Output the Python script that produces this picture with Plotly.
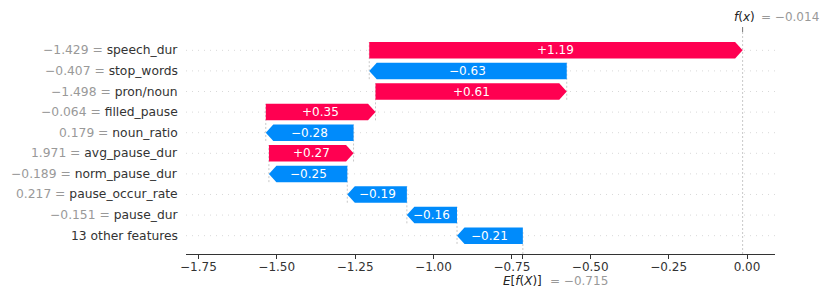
import plotly.graph_objects as go

# ---------------- data (top row first) ----------------
features = ["speech_dur", "stop_words", "pron/noun", "filled_pause", "noun_ratio",
            "avg_pause_dur", "norm_pause_dur", "pause_occur_rate", "pause_dur",
            "13 other features"]
feature_values = [-1.429, -0.407, -1.498, -0.064, 0.179, 1.971, -0.189, 0.217, -0.151, None]
shap_values = [1.191, -0.63, 0.61, 0.35, -0.28, 0.27, -0.25, -0.19, -0.16, -0.21]
base_value = -0.715
tick_values = [-1.75, -1.50, -1.25, -1.00, -0.75, -0.50, -0.25, 0.00]

RED = "#ff0051"
BLUE = "#008bfb"
FONT = "DejaVu Sans"

W, H = 830, 302
ML, MR, MT, MB = 186, 55, 32, 48
XR = [-1.7895, 0.0893]
YR = [-0.89, 9.89]
px_per_unit = (W - ML - MR) / (XR[1] - XR[0])
head_len = 7.5 / px_per_unit
half = 0.4


def fmt(v, d):
    s = f"{abs(v):.{d}f}"
    return ("\u2212" if v < 0 else "") + s


def fmt_signed(v):
    return ("\u2212" if v < 0 else "+") + f"{abs(v):.2f}"


n = len(features)
rows = [n - 1 - i for i in range(n)]
starts = [0.0] * n
ends = [0.0] * n
cur = base_value
for i in reversed(range(n)):
    starts[i] = cur
    cur = cur + shap_values[i]
    ends[i] = cur
fx = cur

fig = go.Figure()
shapes = []
annotations = []

# horizontal dotted row lines
for r in rows:
    shapes.append(dict(type="line", xref="paper", yref="y", x0=0, x1=1, y0=r, y1=r,
                       line=dict(color="#d9d9d9", width=1, dash="1px,5px"), layer="below"))

# connector lines at bar starts
for i in range(n - 1):
    r = rows[i]
    loc = starts[i]
    shapes.append(dict(type="line", xref="x", yref="y", x0=loc, x1=loc,
                       y0=max(r - 1 - half, YR[0]), y1=r + half,
                       line=dict(color="#c8c8c8", width=1, dash="2px,2px"), layer="below"))

# base value line (bottom tenth) and f(x) line (full height)
shapes.append(dict(type="line", xref="x", yref="paper", x0=base_value, x1=base_value,
                   y0=0, y1=1.0 / n, line=dict(color="#c8c8c8", width=1, dash="2px,2px"),
                   layer="below"))
shapes.append(dict(type="line", xref="x", yref="paper", x0=fx, x1=fx, y0=0, y1=1,
                   line=dict(color="#c8c8c8", width=1, dash="2px,2px"), layer="below"))
# top tick at f(x)
plot_h = H - MT - MB
shapes.append(dict(type="line", xref="x", yref="paper", x0=fx, x1=fx, y0=1, y1=1 + 5 / plot_h,
                   line=dict(color="#777777", width=1)))

# bars (arrows)
for i in range(n):
    s, e, r = starts[i], ends[i], rows[i]
    v = shap_values[i]
    hl = min(abs(v), head_len)
    if v >= 0:
        xs = [s, e - hl, e, e - hl, s, s]
        col = RED
    else:
        xs = [s, e + hl, e, e + hl, s, s]
        col = BLUE
    ys = [r - half, r - half, r, r + half, r + half, r - half]
    fig.add_trace(go.Scatter(x=xs, y=ys, mode="lines", fill="toself", fillcolor=col,
                             line=dict(width=0, color=col), hoverinfo="skip", showlegend=False))
    annotations.append(dict(x=(s + e) / 2, y=r, xref="x", yref="y", text=fmt_signed(v),
                            showarrow=False, font=dict(family=FONT, size=12, color="white")))

# y labels
for i in range(n):
    if feature_values[i] is None:
        txt = features[i]
    else:
        txt = f'<span style="color:#999999">{fmt(feature_values[i], 3)} = </span>{features[i]}'
    annotations.append(dict(x=0, y=rows[i], xref="paper", yref="y", text=txt, showarrow=False,
                            xanchor="right", yanchor="middle", xshift=-6,
                            font=dict(family=FONT, size=12.3, color="#333333")))

# f(x) label on top
annotations.append(dict(x=fx, y=1, xref="x", yref="paper", text="<i>f</i>(<i>x</i>)",
                        showarrow=False, xanchor="left", yanchor="middle", xshift=-11, yshift=15,
                        font=dict(family=FONT, size=12, color="#222222")))
annotations.append(dict(x=fx, y=1, xref="x", yref="paper", text="= " + fmt(fx, 3),
                        showarrow=False, xanchor="left", yanchor="middle", xshift=16, yshift=15,
                        font=dict(family=FONT, size=12, color="#999999")))
# E[f(X)] label on bottom
annotations.append(dict(x=base_value, y=0, xref="x", yref="paper", text="<i>E</i>[<i>f</i>(<i>X</i>)]",
                        showarrow=False, xanchor="left", yanchor="middle", xshift=-22, yshift=-27,
                        font=dict(family=FONT, size=12, color="#222222")))
annotations.append(dict(x=base_value, y=0, xref="x", yref="paper", text="= " + fmt(base_value, 3),
                        showarrow=False, xanchor="left", yanchor="middle", xshift=25, yshift=-27,
                        font=dict(family=FONT, size=12, color="#999999")))

tickvals = tick_values + [base_value]
ticktext = [fmt(t, 2) for t in tick_values] + [""]

fig.update_layout(
    width=W, height=H,
    margin=dict(l=ML, r=MR, t=MT, b=MB),
    paper_bgcolor="white", plot_bgcolor="white",
    font=dict(family=FONT, size=12, color="#333333"),
    shapes=shapes, annotations=annotations,
    xaxis=dict(range=XR, showgrid=False, zeroline=False, showline=True, linecolor="#333333",
               linewidth=1, ticks="outside", ticklen=4, tickcolor="#333333", tickwidth=1,
               tickvals=tickvals, ticktext=ticktext, ticklabelstandoff=-2,
               tickfont=dict(family=FONT, size=12, color="#333333")),
    yaxis=dict(range=YR, showgrid=False, zeroline=False, showline=False, showticklabels=False,
               ticks=""),
)

fig.write_html("out.html", config={"displayModeBar": False},
               post_script="document.body.style.margin='0';document.body.style.padding='0';")
